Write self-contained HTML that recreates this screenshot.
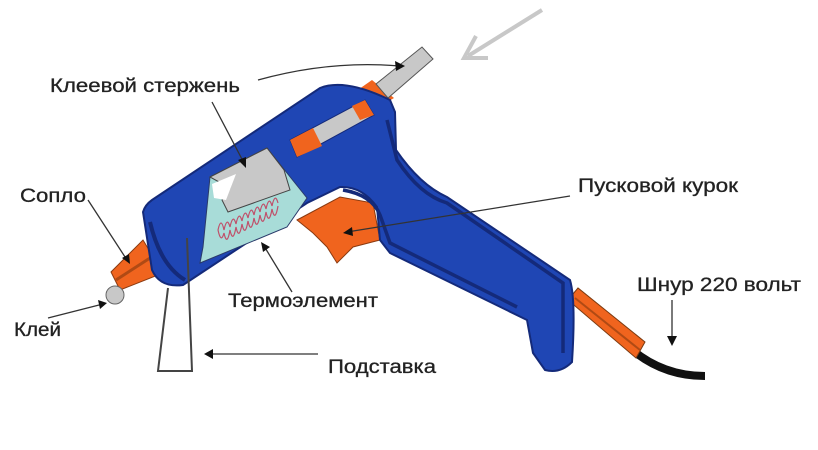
<!DOCTYPE html>
<html><head><meta charset="utf-8"><style>
html,body{margin:0;padding:0;background:#fff;}
svg{display:block}
text{font-family:"Liberation Sans",sans-serif;font-size:19px;fill:#222;stroke:#222;stroke-width:0.3}
</style></head><body>
<svg width="818" height="450" viewBox="0 0 818 450" xmlns="http://www.w3.org/2000/svg">
<!-- grey arrow -->
<line x1="542" y1="10" x2="468" y2="56" stroke="#c8c8c8" stroke-width="4"/>
<polyline points="476,36 464,58 488,58" fill="none" stroke="#c8c8c8" stroke-width="4"/>
<!-- cord -->
<path d="M630,348 Q662,376 705,376" fill="none" stroke="#111" stroke-width="8"/>
<polygon points="568,300 578,288 645,342 636,358" fill="#f0641e" stroke="#7a3a10" stroke-width="1"/>
<line x1="575" y1="298" x2="640" y2="350" stroke="#b04a14" stroke-width="2"/>
<!-- rear glue stick -->
<polygon points="352,94 372,80 394,98 374,110" fill="#f0641e"/>
<polygon points="376,84 422,47 433,59 388,98" fill="#c8c8c8" stroke="#555" stroke-width="1"/>
<!-- nozzle -->
<polygon points="111,272 143,240 163,273 120,290" fill="#f0641e" stroke="#8a3a10" stroke-width="1"/>
<line x1="116" y1="280" x2="150" y2="258" stroke="#b04a14" stroke-width="3"/>
<circle cx="115" cy="295" r="9" fill="#c8c8c8" stroke="#666" stroke-width="1"/>
<!-- trigger -->
<polygon points="297,220 340,197 373,203 380,240 353,247 337,263 327,247 313,233" fill="#f0641e" stroke="#8a3a10" stroke-width="1"/>
<!-- body -->
<path d="M143,212 Q145,205 152,200 L320,88 Q345,78 390,100 L395,112 L396,150 Q420,185 447,197 L570,280 Q576,300 572,362 Q560,374 545,370 L533,353 L527,320 L390,253 L380,240 L377,207 Q362,186 340,187 L307,203 L183,285 Q160,288 152,270 Z" fill="#1f46b4" stroke="#142a7a" stroke-width="2"/>
<path d="M387,120 L397,160 Q420,195 447,203 L563,283 L563,353" fill="none" stroke="#142a7a" stroke-width="3.5"/>
<path d="M343,190 Q372,195 380,215 L390,243 L517,307" fill="none" stroke="#142a7a" stroke-width="3.5"/>
<path d="M150,222 Q160,265 185,280" fill="none" stroke="#142a7a" stroke-width="4"/>
<!-- rear window -->
<polygon points="290,140 365,100 374,115 297,157" fill="#c8c8c8" stroke="#142a7a" stroke-width="1"/>
<polygon points="290,140 313,128 322,146 297,157" fill="#f0641e"/>
<polygon points="352,106 365,100 374,115 360,120" fill="#f0641e"/>
<!-- front window -->
<polygon points="210,177 267,148 287,173 307,198 287,227 200,263 203,247" fill="#a8dcd8" stroke="#2a3a6a" stroke-width="1"/>
<polygon points="210,177 267,148 284,170 290,190 228,212 222,200 230,188" fill="#c8c8c8" stroke="#444" stroke-width="1"/>
<polygon points="212,184 236,174 226,200 214,198" fill="#fff"/>
<g stroke="#c0506a" stroke-width="1.2" fill="none">
<path d="M218,230 q3,-14 6,0 q3,-14 6,-3 q3,-14 6,-3 q3,-14 6,-3 q3,-14 6,-3 q3,-14 6,-3 q3,-14 6,-3 q3,-14 6,-3 q3,-14 6,-3 q3,-14 6,-3"/>
<path d="M218,230 q3,14 6,3 q3,14 6,-3 q3,14 6,-3 q3,14 6,-3 q3,14 6,-3 q3,14 6,-3 q3,14 6,-3 q3,14 6,-3 q3,14 6,-3 q3,14 6,-3"/>
</g>
<!-- stand -->
<polyline points="187,238 192,371 158,371 168,288" fill="none" stroke="#444" stroke-width="2"/>
<!-- leader lines -->
<g stroke="#333" stroke-width="1.3" fill="none">
<path d="M258,80 Q330,60 400,66"/>
<line x1="212" y1="102" x2="244" y2="163"/>
<line x1="88" y1="200" x2="127" y2="260"/>
<line x1="48" y1="318" x2="103" y2="304"/>
<line x1="292" y1="292" x2="264" y2="246"/>
<line x1="318" y1="354" x2="208" y2="354"/>
<line x1="570" y1="196" x2="347" y2="232"/>
<line x1="672" y1="300" x2="672" y2="340"/>
</g>
<g fill="#111">
<polygon points="405,66 395,61 396,71"/>
<polygon points="246,168 238,160 246,157"/>
<polygon points="130,264 122,258 129,254"/>
<polygon points="107,303 98,300 100,309"/>
<polygon points="261,242 263,252 270,247"/>
<polygon points="204,354 213,349 213,359"/>
<polygon points="343,233 352,227 353,236"/>
<polygon points="672,346 667,336 677,336"/>
</g>
<text x="50" y="92" textLength="190" lengthAdjust="spacingAndGlyphs">Клеевой стержень</text>
<text x="20" y="202" textLength="66" lengthAdjust="spacingAndGlyphs">Сопло</text>
<text x="14" y="336" textLength="47" lengthAdjust="spacingAndGlyphs">Клей</text>
<text x="228" y="307" textLength="150" lengthAdjust="spacingAndGlyphs">Термоэлемент</text>
<text x="328" y="373" textLength="108" lengthAdjust="spacingAndGlyphs">Подставка</text>
<text x="578" y="192" textLength="160" lengthAdjust="spacingAndGlyphs">Пусковой курок</text>
<text x="637" y="291" textLength="164" lengthAdjust="spacingAndGlyphs">Шнур 220 вольт</text>
</svg>
</body></html>
